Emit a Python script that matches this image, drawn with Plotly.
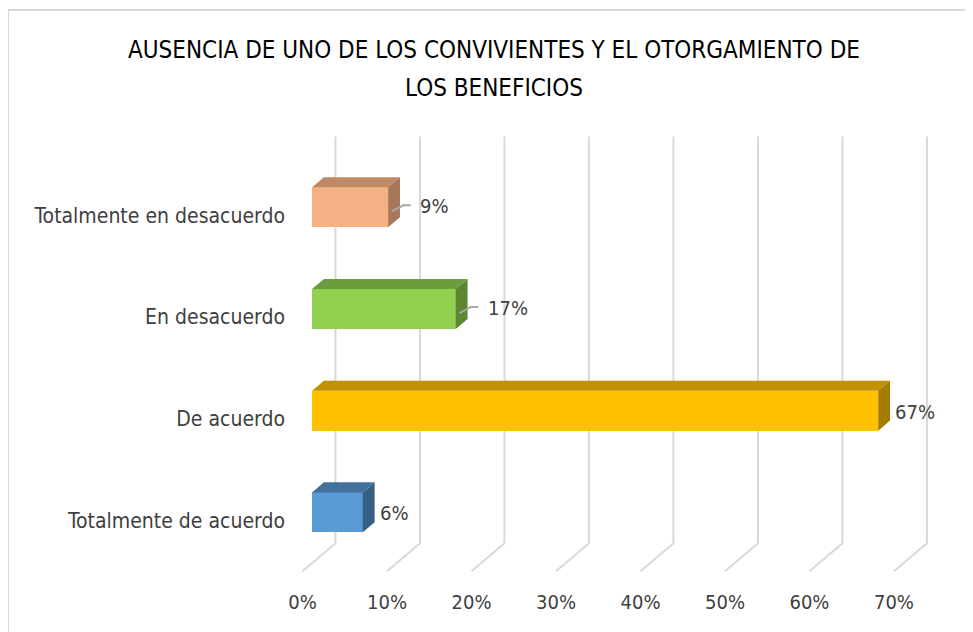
"""
Barras horizontales con efecto 3D (estilo Excel).
"""
import plotly.graph_objects as go

# datos (de abajo hacia arriba)
categorias = ['Totalmente de acuerdo', 'De acuerdo', 'En desacuerdo',
              'Totalmente en desacuerdo']
porcentajes = [6, 67, 17, 9]
ticks_x = [0, 10, 20, 30, 40, 50, 60, 70]
ticks_txt = ['0%', '10%', '20%', '30%', '40%', '50%', '60%', '70%']

col_frente = ['#5B9BD5', '#FFC000', '#92D050', '#F4B183']
col_arriba = ['#41719C', '#C09100', '#6D9C3C', '#BE8A64']
col_lado = ['#375F84', '#A37C00', '#5C8632', '#A7775A']
con_guia = [False, False, True, True]

FONT = 'Liberation Sans Narrow, DejaVu Sans Condensed, Roboto Condensed, Lato'

# geometria del falso 3D, en unidades de datos
DX = 3.9      # profundidad total en eje x
DY = 0.275    # profundidad total en eje y
A = 0.29      # cara frontal de la barra
B = 0.65      # cara trasera de la barra
H = 0.393     # alto de la barra

# area del grafico en pixeles (la pagina agrega 8px de margen)
L, T, W, HT = 278, 122, 664, 458

fig = go.Figure()

# lineas de cuadricula (piso + pared del fondo), debajo de las barras
for t in ticks_x:
    fig.add_shape(type='path', xref='x', yref='y', layer='below',
        path='M %f,%f L %f,%f L %f,%f' % (t, -0.5, t + DX, -0.5 + DY,
                                           t + DX, 3.5 + DY),
        line=dict(color='#d9d9d9', width=2))

for k, v in enumerate(porcentajes):
    # cara frontal
    fig.add_trace(go.Bar(x=[v], y=[k + A * DY], base=[A * DX], width=H,
        orientation='h', marker=dict(color=col_frente[k], line_width=0),
        showlegend=False))
    # cara superior
    top = k + H / 2
    fig.add_trace(go.Scatter(
        x=[A * DX, v + A * DX, v + B * DX, B * DX, A * DX],
        y=[top + A * DY, top + A * DY, top + B * DY, top + B * DY, top + A * DY],
        fill='toself', fillcolor=col_arriba[k], mode='lines',
        line=dict(width=0, color=col_arriba[k]), hoverinfo='skip',
        showlegend=False))
    # cara lateral
    bot = k - H / 2
    fig.add_trace(go.Scatter(
        x=[v + A * DX, v + A * DX, v + B * DX, v + B * DX, v + A * DX],
        y=[bot + A * DY, top + A * DY, top + B * DY, bot + B * DY, bot + A * DY],
        fill='toself', fillcolor=col_lado[k], mode='lines',
        line=dict(width=0, color=col_lado[k]), hoverinfo='skip',
        showlegend=False))

    # etiqueta de datos
    if con_guia[k]:
        fig.add_trace(go.Scatter(
            x=[v + 0.4 * DX, v + 0.75 * DX, v + 3.8],
            y=[k + 0.04, k + 0.1, k + 0.1], mode='lines', hoverinfo='skip',
            line=dict(color='#a6a6a6', width=2), showlegend=False))
        lx, ly = v + 4.7, k + 0.09
    else:
        lx, ly = v + 2.9, k + 0.07
    fig.add_annotation(x=lx, y=ly, text=str(v) + '%', showarrow=False,
        xanchor='left', yanchor='middle',
        font=dict(family=FONT, size=20, color='#404040'))

# titulo (dos lineas, con interlineado amplio); posiciones en pixeles de pantalla
for txt, py in [('AUSENCIA DE UNO DE LOS CONVIVIENTES Y EL OTORGAMIENTO DE', 50),
                ('LOS BENEFICIOS', 88)]:
    fig.add_annotation(x=(494 - 8 - L) / W, y=(T + HT - (py - 8)) / HT,
        xref='paper', yref='paper', text=txt, showarrow=False,
        xanchor='center', yanchor='middle',
        font=dict(family=FONT, size=24, color='#000000'))

# marco del grafico
fig.add_shape(type='rect', xref='paper', yref='paper',
    x0=(0 - L) / W, x1=1.2, y0=-0.3, y1=(T + HT - 2) / HT,
    line=dict(color='#d9d9d9', width=2), fillcolor='rgba(0,0,0,0)',
    layer='below')

fig.update_layout(
    width=973, height=632,
    margin=dict(l=L, r=973 - L - W, t=T, b=632 - T - HT),
    plot_bgcolor='white', paper_bgcolor='white',
    bargap=0,
    xaxis=dict(range=[-1.953, 76.63], tickvals=ticks_x, ticktext=ticks_txt,
               showgrid=False, zeroline=False, showline=False,
               tickfont=dict(family=FONT, size=20, color='#404040')),
    yaxis=dict(range=[-0.664, 3.84], tickvals=list(range(len(categorias))),
               ticktext=categorias, showgrid=False, zeroline=False,
               showline=False,
               tickfont=dict(family=FONT, size=21, color='#404040')),
)

fig.write_html('out.html')
